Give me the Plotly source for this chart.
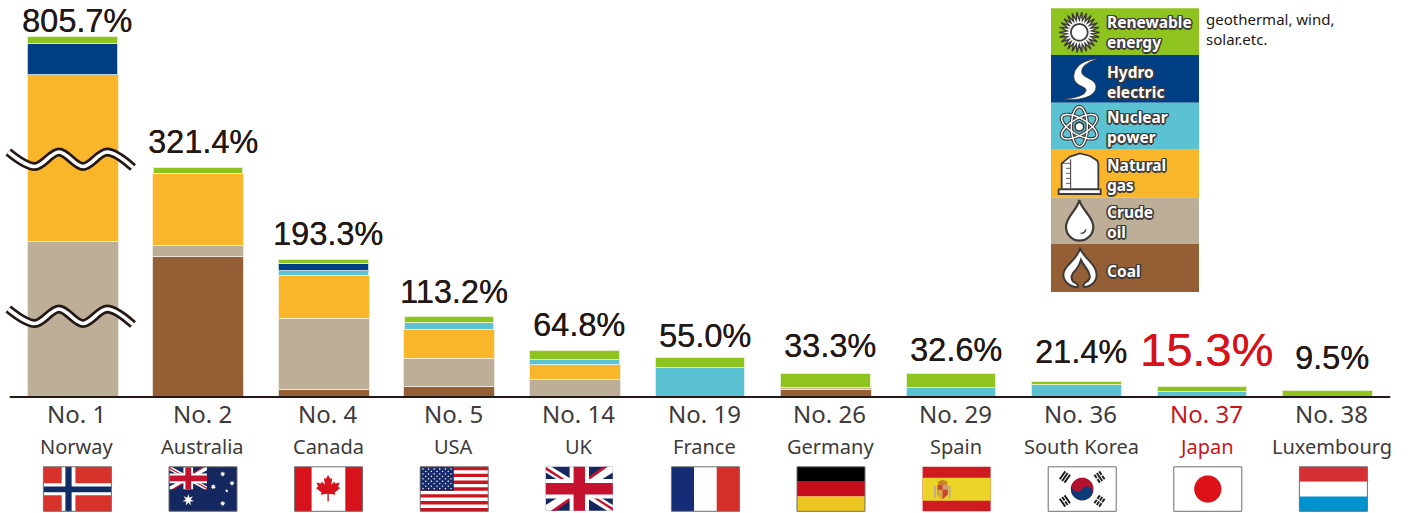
import math
import re
import plotly.graph_objects as go

W, H = 1409, 513

# ---- data -------------------------------------------------------------
COUNTRIES = ["Norway", "Australia", "Canada", "USA", "UK", "France", "Germany",
             "Spain", "South Korea", "Japan", "Luxembourg"]
RANKS = ["No. 1", "No. 2", "No. 4", "No. 5", "No. 14", "No. 19", "No. 26",
         "No. 29", "No. 36", "No. 37", "No. 38"]
TOTALS = [805.7, 321.4, 193.3, 113.2, 64.8, 55.0, 33.3, 32.6, 21.4, 15.3, 9.5]

COAL = [None, 196.6, 10.8, 14.5, None, None, 10.8, None, None, None, None]
CRUDE = [368.4, 15.4, 99.8, 39.7, 25.2, None, 2.9, None, None, None, None]
GAS = [383.1, 101.0, 59.7, 40.7, 20.0, None, None, None, None, None, None]
NUCLEAR = [None, None, 7.0, 9.3, 7.0, 42.0, None, 14.0, 17.8, 7.4, None]
HYDRO = [43.0, None, 10.4, None, None, None, None, None, None, None, None]
RENEWABLE = [11.2, 8.4, 5.6, 9.4, 12.6, 13.0, 19.6, 18.6, 3.6, 7.9, 9.5]

# Norway's bar runs off the scale, so part of two segments is cut at the wavy marks
NORWAY_CUT = {"crude": 150.0, "gas": 149.4}

# ---- scale and style ---------------------------------------------------
PCT_PX = 0.713
BASE_PX = 397
STEP_PX = 125.5
FIRST_PX = 72.5

COL = dict(coal="#945f35", crude="#bcae97", gas="#f9b62b",
           nuclear="#5bc2d3", hydro="#003f83", renewable="#8fc31f")
EDGE = dict(coal="#e6dccf", crude="#ece6dc", gas="#fdeecb",
            nuclear="#d3eef3", hydro="#bcd0e4", renewable="#e2f0c4")
INK = "#231815"
GREY = "#3e3a39"
RED = "#d7121a"


def dx(px):
    return (px - FIRST_PX) / STEP_PX


def dy(py):
    return (BASE_PX - py) / PCT_PX


def X(px):
    return px / W


def Y(py):
    return 1 - py / H


def scaled_path(d, ox=0.0, oy=0.0, s=1.0):
    """Turn a path written in pixels into paper coordinates."""
    out, is_x = [], True
    for tok in re.findall(r"[A-Za-z]|-?\d+\.?\d*", d):
        if tok.isalpha():
            out.append(tok)
            is_x = True
        else:
            v = float(tok)
            out.append(f"{X(ox + v * s):.5f}" if is_x else f"{Y(oy + v * s):.5f}")
            is_x = not is_x
    return " ".join(out)


shapes = []


def draw(d, fill=None, line=None, lw=0.0, ox=0.0, oy=0.0, s=1.0):
    shapes.append(dict(type="path", xref="paper", yref="paper", layer="above",
                       path=scaled_path(d, ox, oy, s),
                       fillcolor=fill if fill else "rgba(0,0,0,0)",
                       line=dict(color=line if line else "rgba(0,0,0,0)", width=lw)))


def poly(points):
    return "M " + " L ".join(f"{x:.3f} {y:.3f}" for x, y in points) + " Z"


def box(x0, y0, x1, y1):
    return poly([(x0, y0), (x1, y0), (x1, y1), (x0, y1)])


def disc(cx, cy, r, n=48):
    return poly([(cx + r * math.cos(2 * math.pi * k / n),
                  cy + r * math.sin(2 * math.pi * k / n)) for k in range(n)])


def star(cx, cy, r, points=5, inner=0.42, rot=-90):
    pts = []
    for k in range(points * 2):
        a = math.radians(rot + k * 180 / points)
        rad = r if k % 2 == 0 else r * inner
        pts.append((cx + rad * math.cos(a), cy + rad * math.sin(a)))
    return poly(pts)


# ---- flags, drawn in local pixels on a 68 x 44.5 field -----------------
FW, FH = 68.0, 44.5
FLAG_TOP = 466.8
FLAG_LEFT = 43.4
FLAG_STEP = 125.6


def union_jack(ox, oy, w, h, navy, red):
    draw(box(0, 0, w, h), navy, ox=ox, oy=oy)
    t = h * 0.13
    draw(poly([(0, 0), (t, 0), (w, h - t), (w, h), (w - t, h), (0, t)]), "#ffffff", ox=ox, oy=oy)
    draw(poly([(w, 0), (w, t), (t, h), (0, h), (0, h - t), (w - t, 0)]), "#ffffff", ox=ox, oy=oy)
    r = t * 0.55
    cx, cy = w / 2, h / 2
    draw(poly([(0, 0), (cx, cy), (cx - r, cy), (0, r)]), red, ox=ox, oy=oy)
    draw(poly([(w, h), (cx, cy), (cx + r, cy), (w, h - r)]), red, ox=ox, oy=oy)
    draw(poly([(w - r * 1.6, 0), (cx, cy - r * 0.6), (cx - r * 1.4, cy - r * 0.6), (w - r * 3.2, 0)]), red, ox=ox, oy=oy)
    draw(poly([(r * 1.6, h), (cx, cy + r * 0.6), (cx + r * 1.4, cy + r * 0.6), (r * 3.2, h)]), red, ox=ox, oy=oy)
    a = h * 0.22
    draw(box(cx - a, 0, cx + a, h), "#ffffff", ox=ox, oy=oy)
    draw(box(0, cy - a, w, cy + a), "#ffffff", ox=ox, oy=oy)
    b = h * 0.13
    draw(box(cx - b, 0, cx + b, h), red, ox=ox, oy=oy)
    draw(box(0, cy - b, w, cy + b), red, ox=ox, oy=oy)


def flag_norway(ox, oy):
    draw(box(0, 0, FW, FH), "#d7332b", ox=ox, oy=oy)
    draw(box(18.3, 0, 32, FH), "#ffffff", ox=ox, oy=oy)
    draw(box(0, 16.4, FW, 28.4), "#ffffff", ox=ox, oy=oy)
    draw(box(22, 0, 28.2, FH), "#102c64", ox=ox, oy=oy)
    draw(box(0, 19.6, FW, 25.4), "#102c64", ox=ox, oy=oy)


def flag_australia(ox, oy):
    navy = "#14275f"
    draw(box(0, 0, FW, FH), navy, ox=ox, oy=oy)
    union_jack(ox + 0.5, oy + 0.5, 37.5, 22, navy, "#c4122f")
    draw(star(19.3, 33.2, 6, points=7), "#ffffff", ox=ox, oy=oy)
    for cx, cy, r in [(53.7, 7.2, 2.8), (63, 16.4, 2.8), (44.3, 20, 2.8),
                      (57.7, 24, 1.8), (53.7, 36.6, 2.8)]:
        draw(star(cx, cy, r, points=7, inner=0.5), "#ffffff", ox=ox, oy=oy)


def flag_canada(ox, oy):
    draw(box(0, 0, FW, FH), "#ffffff", ox=ox, oy=oy)
    draw(box(0, 0, 17, FH), RED, ox=ox, oy=oy)
    draw(box(50.7, 0, FW, FH), RED, ox=ox, oy=oy)
    half = [(0, -13.2), (2.3, -9.2), (4.2, -10.2), (3.2, -3.6), (6.2, -6.8), (7, -4.8),
            (11.6, -5.8), (10, -1.6), (12.2, -0.4), (6.6, 4.2), (7.4, 6.4), (0.7, 5.4),
            (0.7, 13)]
    leaf = half + [(-0.7, 13)] + [(-x, y) for x, y in reversed(half[1:-1])]
    draw(poly([(x + FW / 2 - 0.5, y + 21.5) for x, y in leaf]), RED, ox=ox, oy=oy)


def flag_usa(ox, oy):
    draw(box(0, 0, FW, FH), "#ffffff", ox=ox, oy=oy)
    band = FH / 13
    for k in range(0, 13, 2):
        draw(box(0, k * band, FW, (k + 1) * band), "#c9141f", ox=ox, oy=oy)
    draw(box(0, 0, 33.6, band * 7), "#15296b", ox=ox, oy=oy)
    dots = []
    for row in range(9):
        count = 6 if row % 2 == 0 else 5
        for col in range(count):
            cx = 2.8 + col * 5.6 + (0 if row % 2 == 0 else 2.8)
            cy = 2.2 + row * 2.45
            dots.append(poly([(cx, cy - 0.9), (cx + 0.9, cy), (cx, cy + 0.9), (cx - 0.9, cy)]))
    draw(" ".join(dots), "#ffffff", ox=ox, oy=oy)


def flag_uk(ox, oy):
    union_jack(ox, oy, FW - 1, FH - 0.5, "#14275f", "#c4122f")


def stripes_v(ox, oy, cols):
    for k, c in enumerate(cols):
        draw(box(k * FW / 3, 0, (k + 1) * FW / 3, FH), c, ox=ox, oy=oy)


def stripes_h(ox, oy, cols):
    for k, c in enumerate(cols):
        draw(box(0, k * FH / 3, FW, (k + 1) * FH / 3), c, ox=ox, oy=oy)


def flag_france(ox, oy):
    stripes_v(ox, oy, ["#162c77", "#ffffff", "#d62e28"])


def flag_germany(ox, oy):
    stripes_h(ox, oy, ["#000000", "#c70d1c", "#ecc51f"])


def flag_spain(ox, oy):
    draw(box(0, 0, FW, FH), "#cf1a20", ox=ox, oy=oy)
    draw(box(0, 11, FW, 34), "#ecd327", ox=ox, oy=oy)
    # coat of arms
    draw(box(11.5, 19, 13.5, 31), "#b9a9a0", ox=ox, oy=oy)
    draw(box(26, 19, 28, 31), "#b9a9a0", ox=ox, oy=oy)
    draw(poly([(15, 15), (20, 13), (25, 15), (24, 18), (16, 18)]), "#c9802a", ox=ox, oy=oy)
    draw(poly([(14.8, 18), (25.2, 18), (25.2, 28), (20, 32.5), (14.8, 28)]), "#c8452f", ox=ox, oy=oy)
    draw(box(20, 18, 25.2, 23), "#d59a7a", ox=ox, oy=oy)
    draw(poly([(14.8, 23), (20, 23), (20, 32.5), (14.8, 28)]), "#d6a54a", ox=ox, oy=oy)


def flag_korea(ox, oy):
    draw(box(0, 0, FW, FH), "#ffffff", ox=ox, oy=oy)
    cx, cy, r = 34.0, 22.2, 11.3
    tilt = math.radians(33)

    def turn(x, y, ang=tilt):
        return (cx + x * math.cos(ang) - y * math.sin(ang),
                cy + x * math.sin(ang) + y * math.cos(ang))

    draw(disc(cx, cy, r), "#b5122f", ox=ox, oy=oy)
    blue = []
    for k in range(31):
        a = math.pi - math.pi * k / 30
        blue.append(turn(r * math.cos(a), r * math.sin(a)))
    for k in range(1, 21):
        a = -math.pi * k / 20
        blue.append(turn(r / 2 + r / 2 * math.cos(a), r / 2 * math.sin(a)))
    for k in range(1, 21):
        a = math.pi * k / 20
        blue.append(turn(-r / 2 + r / 2 * math.cos(a), r / 2 * math.sin(a)))
    draw(poly(blue), "#0b3c78", ox=ox, oy=oy)
    # trigrams around the circle: 1 = solid bar, 0 = broken bar
    for (tx, ty), bars in [((-17.3, -12), (1, 1, 1)), ((17.3, -12), (0, 1, 0)),
                           ((-17.3, 12), (1, 0, 1)), ((17.3, 12), (0, 0, 0))]:
        ang = math.atan2(ty, tx) + math.pi / 2
        for j, solid in enumerate(bars):
            offs = (j - 1) * 2.9
            spans = [(-4.8, 4.8)] if solid else [(-4.8, -0.6), (0.6, 4.8)]
            for a, b in spans:
                pts = []
                for u, v in [(a, offs - 0.95), (b, offs - 0.95), (b, offs + 0.95), (a, offs + 0.95)]:
                    pts.append((cx + tx + u * math.cos(ang) - v * math.sin(ang),
                                cy + ty + u * math.sin(ang) + v * math.cos(ang)))
                draw(poly(pts), "#1a1a1a", ox=ox, oy=oy)


def flag_japan(ox, oy):
    draw(box(0, 0, FW, FH), "#ffffff", ox=ox, oy=oy)
    draw(disc(FW / 2, 22.2, 13.6), "#dc1218", ox=ox, oy=oy)


def flag_luxembourg(ox, oy):
    stripes_h(ox, oy, ["#d62e35", "#ffffff", "#0093ce"])


FLAGS = [flag_norway, flag_australia, flag_canada, flag_usa, flag_uk, flag_france,
         flag_germany, flag_spain, flag_korea, flag_japan, flag_luxembourg]
FRAMED = [True, True, True, True, False, True, True, False, True, True, True]

for i, paint in enumerate(FLAGS):
    fx = FLAG_LEFT + i * FLAG_STEP
    paint(fx, FLAG_TOP)
    if FRAMED[i]:
        draw(box(0, 0, FW, FH), None, "#6f6f6f", 1.0, ox=fx, oy=FLAG_TOP)

# ---- key block ---------------------------------------------------------
KEY_NAMES = ["renewable", "hydro", "nuclear", "gas", "crude", "coal"]
KEY_EDGES = [8.3, 55, 102.7, 149.7, 197.7, 244, 292]
for name, top, bottom in zip(KEY_NAMES, KEY_EDGES, KEY_EDGES[1:]):
    draw(box(1051, top, 1199, bottom), COL[name])

OUT = "#3e3a39"
KS = 1 / 3  # icons are laid out on a 3x grid relative to (1040, 0)

# sun
sun = []
RAYS = 26
for k in range(RAYS * 2):
    a = math.pi * k / RAYS
    rad = 61 if k % 2 == 0 else 37
    sun.append((118 + rad * math.cos(a), 97 + rad * math.sin(a)))
draw(poly(sun), "#ffffff", OUT, 1.4, 1040, 0, KS)
draw(disc(118, 97, 25), "#ffffff", OUT, 1.8, 1040, 0, KS)

# river
draw("M 172 176 C 125 180 98 205 102 235 C 106 262 150 258 135 278 C 125 290 95 295 68 298 "
     "C 110 302 165 295 168 262 C 170 235 125 235 125 215 C 125 195 150 185 172 176 Z",
     "#ffffff", OUT, 0.8, 1040, 0, KS)


def orbit_path(deg):
    t = math.radians(deg)
    pts = []
    for k in range(60):
        a = 2 * math.pi * k / 60
        ex, ey = 60 * math.cos(a), 24 * math.sin(a)
        pts.append((118 + ex * math.cos(t) - ey * math.sin(t),
                    380 + ex * math.sin(t) + ey * math.cos(t)))
    return poly(pts)


# atom
for deg in (90, 30, -30):
    draw(orbit_path(deg), None, OUT, 3.6, 1040, 0, KS)
for deg in (90, 30, -30):
    draw(orbit_path(deg), None, "#ffffff", 1.4, 1040, 0, KS)
draw(disc(118, 380, 13), "#ffffff", OUT, 1.6, 1040, 0, KS)

# tank
draw("M 65 490 L 90 470 L 120 460 L 150 468 L 172 482 L 175 490 L 175 568 L 65 568 Z",
     "#ffffff", OUT, 1.8, 1040, 0, KS)
draw(box(56, 568, 182, 582), "#ffffff", OUT, 1.8, 1040, 0, KS)
draw("M 92 478 L 92 566", None, OUT, 1.0, 1040, 0, KS)
draw("M 65 490 L 92 490 M 78 505 L 92 505 M 78 520 L 92 520 M 78 535 L 92 535 M 78 550 L 92 550",
     None, OUT, 0.8, 1040, 0, KS)

# drop
draw("M 118 600 C 112 630 78 650 78 680 C 78 705 98 722 118 722 C 140 722 160 705 160 680 "
     "C 160 650 125 630 118 600 Z", "#ffffff", OUT, 2.2, 1040, 0, KS)
draw("M 122 700 C 130 700 136 695 138 688", None, OUT, 1.4, 1040, 0, KS)

# flame
draw("M 75 8 C 80 35 125 55 125 90 C 125 112 105 125 88 127 C 84 122 84 118 90 113 "
     "C 102 108 108 98 102 85 C 98 70 85 62 78 45 C 74 60 62 75 62 75 C 50 85 45 100 55 110 "
     "C 65 113 70 118 68 127 C 45 127 25 110 25 88 C 25 60 70 45 75 8 Z",
     "#ffffff", OUT, 2.0, 1055, 245, KS)

# ---- annotations -------------------------------------------------------
FONT_VAL = "Liberation Sans, Arial, sans-serif"
FONT_TXT = "Noto Sans, sans-serif"
LABEL_X_PX = 4.5
VALUE_GAP = [1, 12, 11, 10, 12, 8, 13, 10, 16, 14, 18]
HIGHLIGHT = "Japan"

annotations = []
cuts = sum(NORWAY_CUT.values())
for i, (name, rank, total, gap) in enumerate(zip(COUNTRIES, RANKS, TOTALS, VALUE_GAP)):
    hot = name == HIGHLIGHT
    drawn_total = total - cuts if i == 0 else total
    color = RED if hot else INK
    annotations.append(dict(
        x=i, y=drawn_total, xref="x", yref="y", text=f"{total:.1f}%", showarrow=False,
        xanchor="center", yanchor="bottom", xshift=LABEL_X_PX, yshift=gap - 6,
        font=dict(family=FONT_VAL, size=47 if hot else 32.5, color=color,
                  shadow=f"0.25px 0 0 {color}")))
    annotations.append(dict(
        x=i, y=Y(413.5), xref="x", yref="paper", text=rank, showarrow=False,
        xanchor="center", yanchor="middle", xshift=LABEL_X_PX - 0.5,
        font=dict(family=FONT_TXT, size=24, color="#c8161d" if hot else GREY)))
    annotations.append(dict(
        x=i, y=Y(446), xref="x", yref="paper", text=name, showarrow=False,
        xanchor="center", yanchor="middle", xshift=LABEL_X_PX,
        font=dict(family=FONT_TXT, size=20, color="#c8161d" if hot else GREY)))

HALO = ("1.5px 0 0 {c}, -1.5px 0 0 {c}, 0 1.5px 0 {c}, 0 -1.5px 0 {c}, "
        "1.2px 1.2px 0 {c}, -1.2px 1.2px 0 {c}, 1.2px -1.2px 0 {c}, -1.2px -1.2px 0 {c}").format(c=OUT)
KEY_LABELS = ["Renewable<br>energy", "Hydro<br>electric", "Nuclear<br>power",
              "Natural<br>gas", "Crude<br>oil", "Coal"]
KEY_LABEL_Y = [32, 82, 127.5, 175, 222, 271]
for text, yy in zip(KEY_LABELS, KEY_LABEL_Y):
    annotations.append(dict(
        x=X(1104.5), y=Y(yy), xref="paper", yref="paper", text=text, showarrow=False,
        xanchor="left", yanchor="middle", align="left",
        font=dict(family=FONT_TXT, size=15.5, weight=700, color="#ffffff", shadow=HALO)))

annotations.append(dict(
    x=X(1204), y=Y(29.5), xref="paper", yref="paper", text="geothermal, wind,<br>solar.etc.",
    showarrow=False, xanchor="left", yanchor="middle", align="left",
    font=dict(family=FONT_TXT, size=15, color=INK)))

# baseline
shapes.append(dict(type="line", xref="x", yref="y", x0=-0.5, x1=10.5, y0=0, y1=0,
                   layer="above", line=dict(color=INK, width=2)))

# ---- bars --------------------------------------------------------------
SERIES = [("coal", COAL, 91), ("crude", CRUDE, 91), ("gas", GAS, 91),
          ("nuclear", NUCLEAR, 89.5), ("hydro", HYDRO, 89.5), ("renewable", RENEWABLE, 89.5)]

fig = go.Figure()
for key, values, width_px in SERIES:
    drawn = list(values)
    if key in NORWAY_CUT:
        drawn[0] = values[0] - NORWAY_CUT[key]
    fig.add_trace(go.Bar(
        x=list(range(len(COUNTRIES))), y=drawn, name=key, width=width_px / STEP_PX,
        marker=dict(color=COL[key], line=dict(color=EDGE[key], width=1)),
        showlegend=False, hoverinfo="skip"))

# wavy break marks over Norway's bar
WAVE_PX = [(8.3, 152), (35, 166.5), (59, 152), (83, 166.5), (107, 152), (133, 167.5)]
for shift in (0, 157):
    xs = [dx(p[0]) for p in WAVE_PX]
    ys = [dy(p[1] + shift) for p in WAVE_PX]
    for color, lw in [(INK, 9), ("#ffffff", 3.6)]:
        fig.add_trace(go.Scatter(x=xs, y=ys, mode="lines",
                                 line=dict(color=color, width=lw, shape="spline", smoothing=1.0),
                                 showlegend=False, hoverinfo="skip"))

fig.update_layout(
    width=W, height=H, autosize=False, barmode="stack",
    margin=dict(l=0, r=0, t=0, b=0), paper_bgcolor="#ffffff", plot_bgcolor="#ffffff",
    xaxis=dict(visible=False, range=[dx(0), dx(W)], fixedrange=True),
    yaxis=dict(visible=False, range=[dy(H), dy(0)], fixedrange=True),
    shapes=shapes, annotations=annotations)

fig.write_html("out.html", config=dict(displayModeBar=False))
